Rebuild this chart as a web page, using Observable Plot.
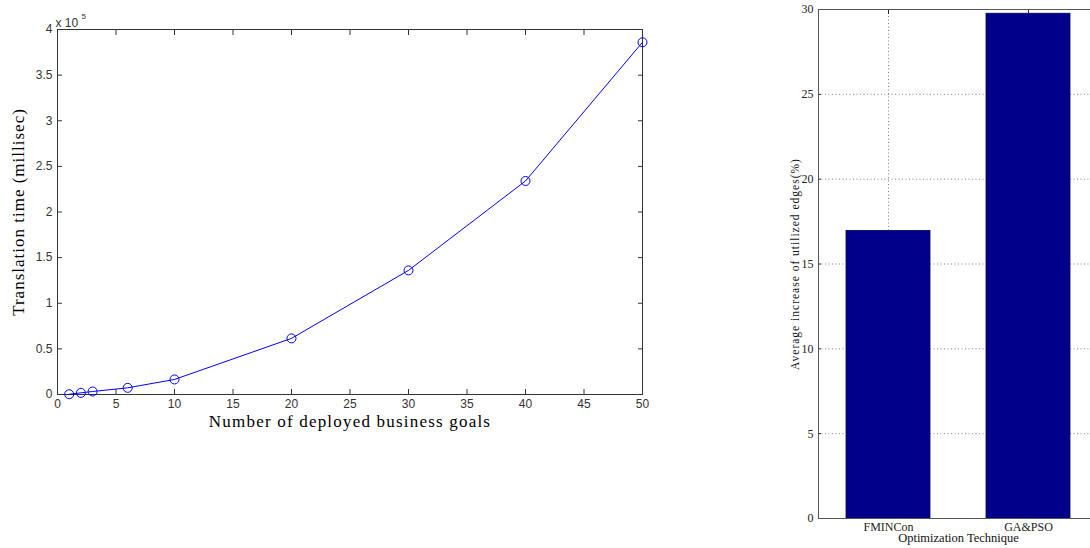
<!DOCTYPE html>
<html><head><meta charset="utf-8">
<script src="https://cdn.jsdelivr.net/npm/d3@7"></script>
<script src="https://cdn.jsdelivr.net/npm/@observablehq/plot@0.6"></script>
<style>
html,body{margin:0;padding:0;background:#fff;overflow:hidden;width:1090px;height:548px;}
#wrap{position:relative;width:1090px;height:548px;overflow:hidden;}
#left{position:absolute;left:0;top:0;}
#right{position:absolute;left:760px;top:0;width:340px;}
svg{max-width:none !important;}
</style></head>
<body><div id="wrap"><div id="left"></div><div id="right"></div></div>
<script>
// Left panel data
const goals = [1, 2, 3, 6, 10, 20, 30, 40, 50];
const translationTime = [300, 1800, 3300, 7300, 16500, 61500, 136000, 234000, 386000];
const xTicksLeft = [0, 5, 10, 15, 20, 25, 30, 35, 40, 45, 50];
const yTicksLeft = [0, 50000, 100000, 150000, 200000, 250000, 300000, 350000, 400000];

// Right panel data
const techniques = ["FMINCon", "GA&PSO"];
const edgeIncrease = [16.95, 29.75];
const yTicksRight = [0, 5, 10, 15, 20, 25, 30];

const lineData = goals.map((g, i) => ({g, t: translationTime[i]}));
const barData = techniques.map((c, i) => ({c, v: edgeIncrease[i]}));

const sans = "Liberation Sans, Arial, sans-serif";
const serif = "Liberation Serif, Times New Roman, serif";

const xLabelL = "Number of deployed business goals";
const yLabelL = "Translation time (millisec)";
const xLabelR = "Optimization Technique";
const yLabelR = "Average increase of utilized edges(%)";

const left = Plot.plot({
  width: 660, height: 450,
  marginLeft: 57, marginRight: 18, marginTop: 29, marginBottom: 56,
  style: {fontFamily: sans, fontSize: "12px", color: "#333", background: "#fff"},
  x: {domain: [0, 50]},
  y: {domain: [0, 400000]},
  marks: [
    Plot.axisX({ticks: xTicksLeft, tickSize: -5, tickPadding: 10, tickFormat: d => d, label: null, fontSize: 12}),
    Plot.axisX({anchor: "top", ticks: xTicksLeft, tickSize: -5, text: null, label: null}),
    Plot.axisY({ticks: yTicksLeft, tickSize: -5, tickPadding: 10, tickFormat: d => d / 1e5, label: null, fontSize: 12}),
    Plot.axisY({anchor: "right", ticks: yTicksLeft, tickSize: -5, text: null, label: null}),
    Plot.frame({stroke: "#333", strokeWidth: 1}),
    Plot.line(lineData, {x: "g", y: "t", stroke: "#0000ff", strokeWidth: 1}),
    Plot.dot(lineData, {x: "g", y: "t", r: 4.5, stroke: "#0000ff", fill: "none", strokeWidth: 1}),
    Plot.text([xLabelL], {frameAnchor: "bottom", textAnchor: "middle", dy: 32, fontFamily: serif, fontSize: 17, fill: "#000"}),
    Plot.text([yLabelL], {frameAnchor: "left", textAnchor: "middle", dx: -39, rotate: -90, fontFamily: serif, fontSize: 17, fill: "#000"}),
    Plot.text(["x 10"], {frameAnchor: "top-left", dy: -11, dx: -2, textAnchor: "start", fontFamily: sans, fontSize: 12, fill: "#333"}),
    Plot.text(["5"], {frameAnchor: "top-left", dy: -16, dx: 24, textAnchor: "start", fontFamily: sans, fontSize: 8, fill: "#333"})
  ]
});
document.getElementById("left").appendChild(left);

const right = Plot.plot({
  width: 340, height: 548,
  marginLeft: 58, marginRight: 2, marginTop: 9, marginBottom: 30,
  style: {fontFamily: serif, fontSize: "12px", color: "#222", background: "#fff", maxWidth: "none"},
  x: {domain: techniques, paddingInner: 0.4, paddingOuter: 0.2},
  y: {domain: [0, 30]},
  marks: [
    Plot.gridY({ticks: yTicksRight, stroke: "#777", strokeOpacity: 0.9, strokeDasharray: "1,2.5"}),
    Plot.gridX({stroke: "#777", strokeOpacity: 0.9, strokeDasharray: "1,2.5"}),
    Plot.barY(barData, {x: "c", y: "v", fill: "#00008b", stroke: "#000066", strokeWidth: 0.8}),
    Plot.axisX({tickSize: 0, tickPadding: 4, label: null, fontSize: 12, fontFamily: serif}),
    Plot.axisX({anchor: "top", tickSize: -4, text: null, label: null}),
    Plot.axisY({ticks: yTicksRight, tickSize: -3, tickPadding: 8, label: null, fontSize: 12, fontFamily: serif}),
    Plot.frame({stroke: "#555", strokeWidth: 1}),
    Plot.text([xLabelR], {frameAnchor: "bottom", textAnchor: "middle", dy: 23, fontFamily: serif, fontSize: 12.5, fill: "#111"}),
    Plot.text([yLabelR], {frameAnchor: "left", textAnchor: "middle", dx: -23, rotate: -90, fontFamily: serif, fontSize: 11.5, fill: "#111"})
  ]
});
document.getElementById("right").appendChild(right);

// widen letter spacing of axis titles to match the reference's wide bitmap font
const spacing = {[xLabelL]: "1.2px", [yLabelL]: "1px", [yLabelR]: "1px"};
d3.selectAll("svg text").each(function() {
  const s = spacing[this.textContent];
  if (s) this.style.letterSpacing = s;
});
</script>
</body></html>
